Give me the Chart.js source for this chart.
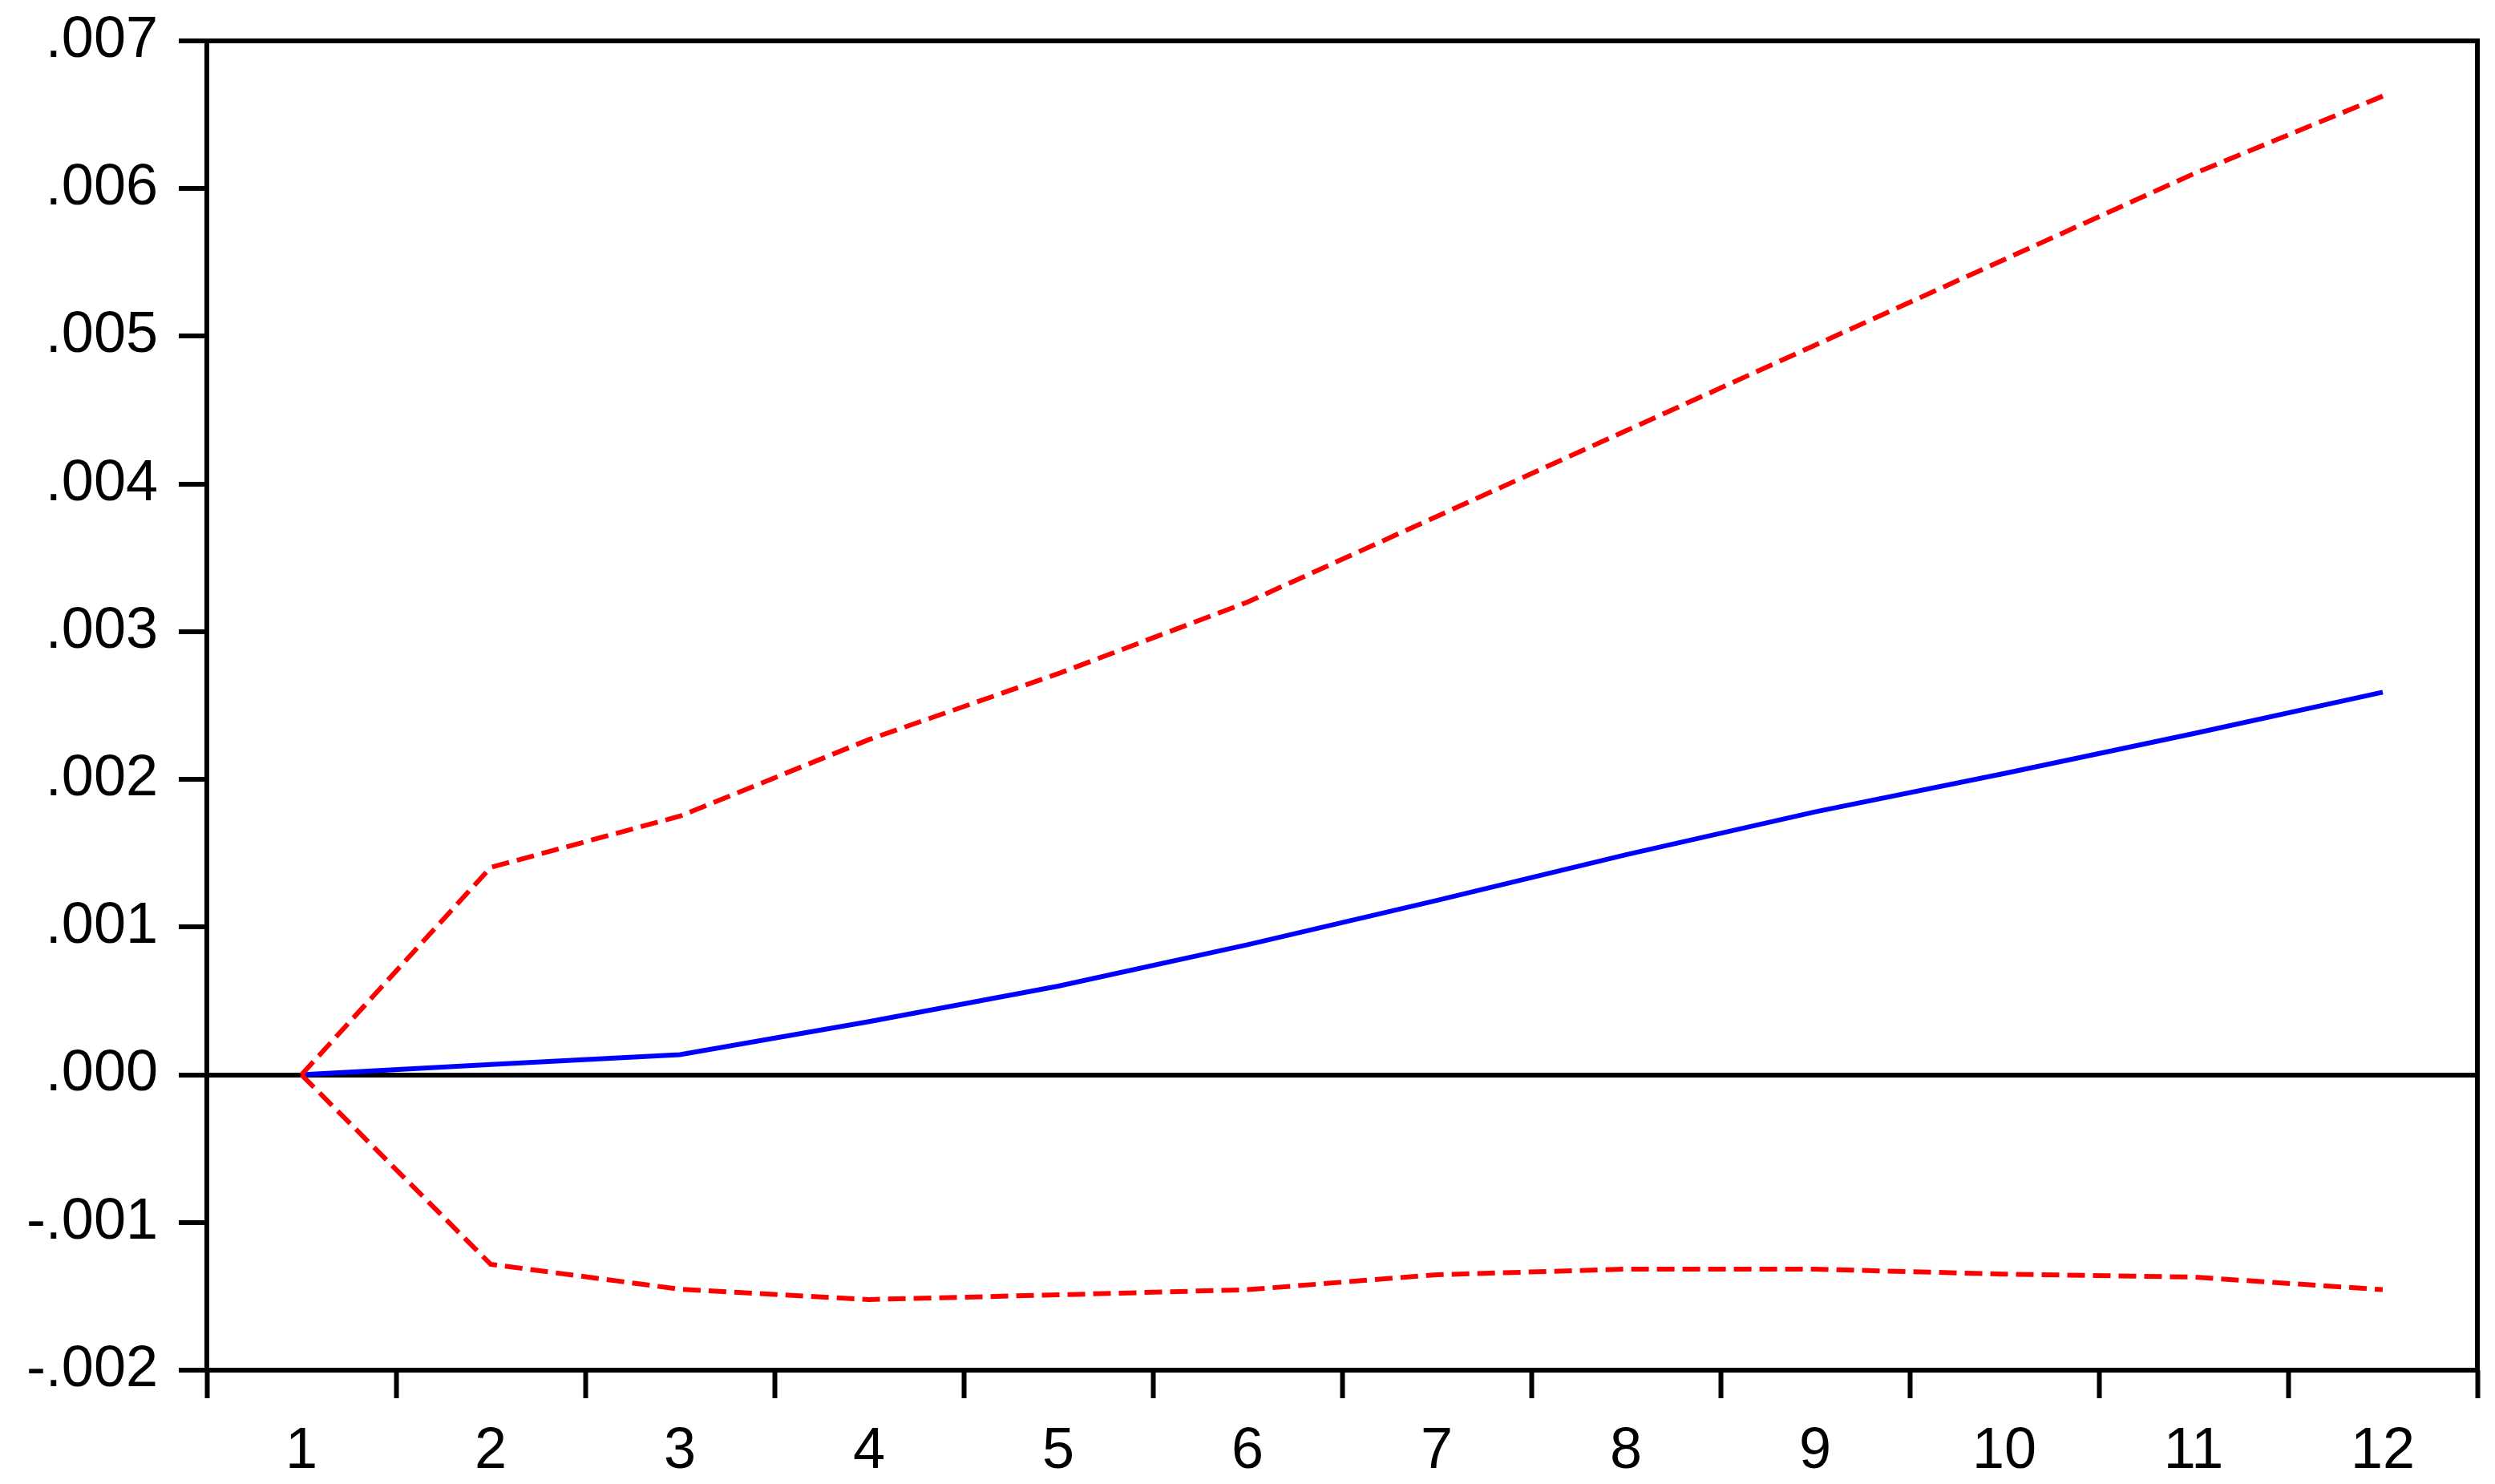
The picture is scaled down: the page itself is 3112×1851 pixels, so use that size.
<!DOCTYPE html>
<html>
<head>
<meta charset="utf-8">
<script src="https://cdn.jsdelivr.net/npm/chart.js@4.4.0/dist/chart.umd.min.js"></script>
<style>
  html, body { margin: 0; padding: 0; background: #fff; }
  #wrap { width: 3112px; height: 1851px; }
</style>
</head>
<body>
<div id="wrap"><canvas id="chart"></canvas></div>
<script>
// periods after the shock
const periods = ['1', '2', '3', '4', '5', '6', '7', '8', '9', '10', '11', '12'];

// impulse response (blue) and +/- 2 S.E. bands (red)
const response = [0, 0.000069, 0.000136, 0.00036, 0.0006, 0.00088, 0.00118, 0.00149, 0.00178, 0.00204, 0.00231, 0.00259];
const upperBand = [0, 0.001404, 0.001751, 0.00227, 0.002716, 0.0032, 0.00378, 0.00436, 0.00494, 0.00552, 0.0061, 0.006626];
const lowerBand = [0, -0.001283, -0.001452, -0.001522, -0.00149, -0.001455, -0.001354, -0.001316, -0.001316, -0.00135, -0.00137, -0.001455];

// y axis tick range
const yMin = -0.002;
const yMax = 0.007;
const yStep = 0.001;

const FONT = { family: '"Liberation Sans", Arial, sans-serif', size: 72 };

function fmtTick(v) {
    if (Math.abs(v) < 1e-9) return '.000';
    const s = Math.abs(v).toFixed(3).replace(/^0/, '');
    return (v < 0 ? '-' : '') + s;
}

// frame round the plot area
const frame = {
    id: 'frame',
    afterDatasetsDraw(chart) {
        const a = chart.chartArea;
        const ctx = chart.ctx;
        ctx.save();
        ctx.strokeStyle = '#000';
        ctx.lineWidth = 6;
        ctx.strokeRect(a.left, a.top, a.right - a.left, a.bottom - a.top);
        ctx.restore();
    }
};

new Chart(document.getElementById('chart'), {
    type: 'line',
    data: {
        labels: periods,
        datasets: [
            {
                data: upperBand,
                borderColor: '#ff0000',
                borderWidth: 6,
                borderDash: [22, 10],
                pointRadius: 0,
                tension: 0
            },
            {
                data: lowerBand,
                borderColor: '#ff0000',
                borderWidth: 6,
                borderDash: [22, 10],
                pointRadius: 0,
                tension: 0
            },
            {
                data: response,
                borderColor: '#0000ff',
                borderWidth: 6,
                pointRadius: 0,
                tension: 0
            }
        ]
    },
    options: {
        responsive: true,
        maintainAspectRatio: false,
        animation: false,
        layout: { padding: { top: 51, right: 22, left: 0, bottom: 0 } },
        plugins: {
            legend: { display: false },
            tooltip: { enabled: false }
        },
        scales: {
            x: {
                offset: true,
                border: { display: false },
                grid: {
                    offset: true,
                    drawOnChartArea: false,
                    tickLength: 35,
                    tickColor: '#000',
                    tickWidth: 6
                },
                ticks: { color: '#000', font: FONT, padding: 24, maxRotation: 0 },
                afterFit(scale) {
                    scale.height = 142;
                    scale.paddingLeft = 0;
                    scale.paddingRight = 0;
                }
            },
            y: {
                min: yMin,
                max: yMax,
                border: { display: false },
                grid: {
                    color: c => (c.tick && Math.abs(c.tick.value) < 1e-9) ? '#000' : 'rgba(0,0,0,0)',
                    lineWidth: 6,
                    tickLength: 35,
                    tickColor: '#000',
                    tickWidth: 6
                },
                ticks: {
                    stepSize: yStep,
                    color: '#000',
                    font: FONT,
                    padding: 26,
                    callback: v => fmtTick(v)
                },
                afterFit(scale) {
                    scale.width = 258;
                    scale.paddingTop = 0;
                    scale.paddingBottom = 0;
                }
            }
        }
    },
    plugins: [frame]
});
</script>
</body>
</html>
